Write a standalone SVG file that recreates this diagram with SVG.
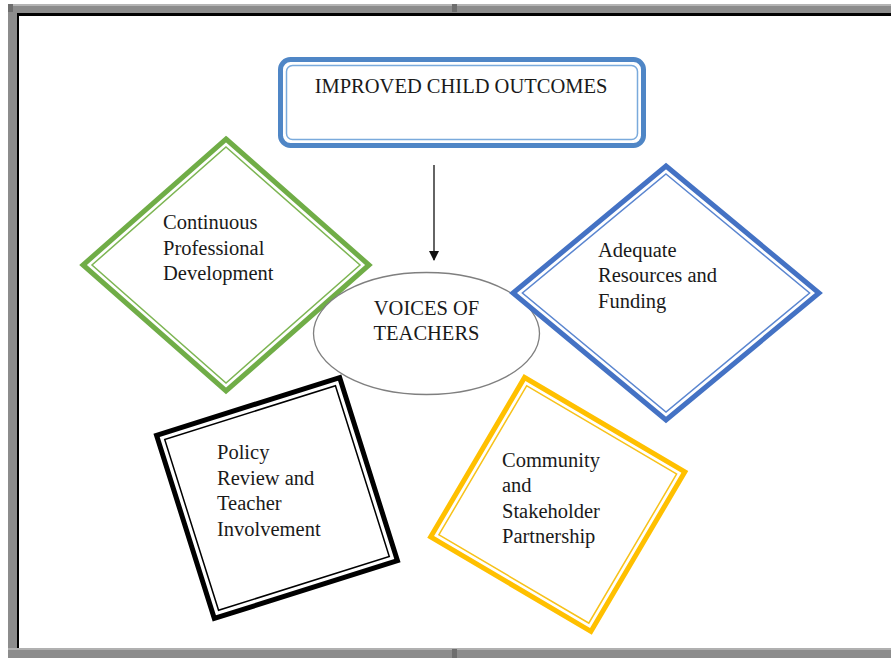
<svg xmlns="http://www.w3.org/2000/svg" width="891" height="658" viewBox="0 0 891 658">
  <style>
    .lbl { font-family: "Liberation Serif", "Times New Roman", serif; font-size: 20.5px; fill: #1a1a1a; }
    .mid { text-anchor: middle; }
    .outer { fill: #ffffff; stroke-width: 5; stroke-linejoin: miter; }
    .inner { fill: none; stroke-width: 1.5; }
    .conn { stroke: #111111; stroke-width: 1.3; fill: none; }
  </style>
  <defs>
    <marker id="arrowhead" viewBox="0 0 10 10" refX="9" refY="5" markerWidth="10" markerHeight="10" markerUnits="userSpaceOnUse" orient="auto">
      <path d="M0,0 L10,5 L0,10 Z" fill="#111111"/>
    </marker>
  </defs>

  <!-- page frame -->
  <rect x="0" y="0" width="891" height="658" fill="#ffffff"/>
  <rect x="8" y="4" width="883" height="654" fill="#8c8c8c"/>
  <rect x="8" y="4" width="883" height="2" fill="#b5b5b5"/>
  <rect x="8" y="648" width="883" height="2" fill="#b0b0b0"/>
  <rect x="452" y="4" width="5" height="8" fill="#6e6e6e"/>
  <rect x="452" y="649" width="5" height="9" fill="#6e6e6e"/>
  <rect x="8" y="4" width="5" height="8" fill="#6e6e6e"/>
  <rect x="17" y="13" width="874" height="635" fill="#000000"/>
  <rect x="19" y="16" width="872" height="632" fill="#ffffff"/>

  <!-- connector -->
  <g id="connectors">
    <line class="conn" x1="434" y1="165" x2="434" y2="260" marker-end="url(#arrowhead)"/>
  </g>

  <!-- top outcome box -->
  <g id="node-outcomes">
    <rect x="280.5" y="59.5" width="363" height="86" rx="10" class="outer" stroke="#4F86C6"/>
    <rect x="286.5" y="65.5" width="351" height="74" rx="6" class="inner" stroke="#7aaadc"/>
    <text class="lbl mid" x="461" y="93">IMPROVED CHILD OUTCOMES</text>
  </g>

  <!-- professional development -->
  <g id="node-cpd">
    <polygon class="outer" stroke="#70AD47" points="226,139 369,265 226,391 83,265"/>
    <polygon class="inner" stroke="#7DB553" points="226,147 360,265 226,383 92,265"/>
    <text class="lbl" x="163" y="229">Continuous</text>
    <text class="lbl" x="163" y="254.5">Professional</text>
    <text class="lbl" x="163" y="280">Development</text>
  </g>

  <!-- central ellipse -->
  <g id="node-voices">
    <ellipse cx="426.5" cy="333.5" rx="113" ry="61" fill="#ffffff" stroke="#7f7f7f" stroke-width="1.3"/>
    <text class="lbl mid" x="426.5" y="315">VOICES OF</text>
    <text class="lbl mid" x="426.5" y="340">TEACHERS</text>
  </g>

  <!-- policy review -->
  <g id="node-policy">
    <g transform="translate(277 498) rotate(-17.5)">
      <rect class="outer" stroke="#000000" stroke-width="6" x="-96" y="-96" width="192" height="192"/>
      <rect class="inner" stroke="#000000" x="-89.5" y="-89.5" width="179" height="179"/>
    </g>
    <text class="lbl" x="217" y="459">Policy</text>
    <text class="lbl" x="217" y="484.5">Review and</text>
    <text class="lbl" x="217" y="510">Teacher</text>
    <text class="lbl" x="217" y="535.5">Involvement</text>
  </g>

  <!-- resources -->
  <g id="node-resources">
    <polygon class="outer" stroke="#4472C4" points="666,166 819,293 666,420 513,293"/>
    <polygon class="inner" stroke="#5B86D0" points="666,174 809.6,293 666,412 522.4,293"/>
    <text class="lbl" x="598" y="256.5">Adequate</text>
    <text class="lbl" x="598" y="282">Resources and</text>
    <text class="lbl" x="598" y="307.5">Funding</text>
  </g>

  <!-- community partnership -->
  <g id="node-community">
    <g transform="translate(558 504) rotate(30.5)">
      <rect class="outer" stroke="#FFC000" x="-93" y="-92" width="186" height="185"/>
      <rect class="inner" stroke="#F7C21A" x="-87" y="-86" width="174" height="173"/>
    </g>
    <text class="lbl" x="502" y="467">Community</text>
    <text class="lbl" x="502" y="492">and</text>
    <text class="lbl" x="502" y="517.5">Stakeholder</text>
    <text class="lbl" x="502" y="543">Partnership</text>
  </g>
</svg>
